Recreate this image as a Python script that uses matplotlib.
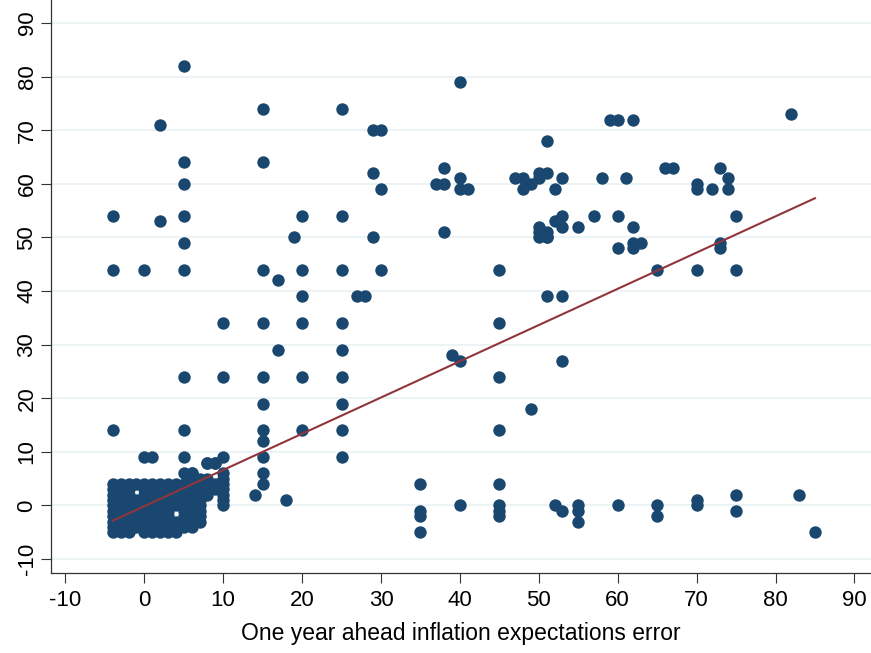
import numpy as np
import matplotlib
matplotlib.use("Agg")
import matplotlib.pyplot as plt

plt.rcParams['font.family'] = ['Liberation Sans', 'DejaVu Sans']
plt.rcParams['axes.unicode_minus'] = False

# dense block of integer points near the origin: column x -> (lowest y, highest y)
block_x = [-4, -3, -2, -1, 0, 1, 2, 3, 4, 5, 6, 7, 8, 9, 10]
block_ymin = [-5, -5, -5, -4, -5, -5, -5, -5, -5, -4, -4, -3, 2, 3, 0]
block_ymax = [4, 4, 4, 4, 4, 4, 4, 4, 4, 4, 6, 5, 5, 4, 6]
# gaps inside the block
block_gaps = [(-1, 2), (-1, 3), (4, -1), (4, -2)]

# remaining points (expectations error, second variable)
pts_x = [-4, -4, -4, 0, 0, 1, 2, 2,
         5, 5, 5, 5, 5, 5, 5, 5, 5, 5, 6, 8, 9, 8, 9, 10,
         10, 10,
         14, 15, 15, 15, 15, 15, 15, 15, 15, 15, 15, 15,
         17, 17, 18, 19,
         20, 20, 20, 20, 20, 20,
         25, 25, 25, 25, 25, 25, 25, 25, 25,
         27, 28, 29, 29, 29, 30, 30, 30,
         35, 35, 35, 35,
         37, 38, 38, 38, 39, 40, 40, 40, 41, 40, 40,
         45, 45, 45, 45, 45, 45, 45, 45,
         47, 48, 48, 49, 49, 50, 50, 51, 51, 52, 53,
         50, 50, 51, 50, 51, 51, 52, 53, 53, 51, 53, 53, 52, 53,
         55, 55, 55, 55, 57, 58, 59, 60, 62,
         60, 60, 61, 62, 62, 63, 62, 60,
         65, 65, 65, 66, 67,
         70, 70, 70, 70, 70, 72, 73, 73, 73, 74, 74,
         75, 75, 75, 75, 82, 83, 85]
pts_y = [54, 44, 14, 44, 9, 9, 71, 53,
         82, 64, 60, 54, 49, 44, 24, 14, 9, 6, 6, 8, 8, 8, 8, 9,
         34, 24,
         2, 74, 64, 44, 34, 24, 19, 14, 12, 9, 6, 4,
         42, 29, 1, 50,
         54, 44, 39, 34, 24, 14,
         74, 54, 44, 34, 29, 24, 19, 14, 9,
         39, 39, 70, 62, 50, 70, 59, 44,
         4, -1, -2, -5,
         60, 60, 63, 51, 28, 79, 61, 59, 59, 27, 0,
         44, 34, 24, 14, 4, 0, -1, -2,
         61, 61, 59, 60, 18, 62, 61, 62, 68, 59, 61,
         52, 51, 51, 50, 50, 39, 53, 54, 52, 50, 39, 27, 0, -1,
         52, 0, -1, -3, 54, 61, 72, 72, 72,
         54, 48, 61, 52, 49, 49, 48, 0,
         44, 0, -2, 63, 63,
         60, 59, 44, 1, 0, 59, 63, 49, 48, 61, 59,
         54, 44, 2, -1, 73, 2, -5]

# fitted line
fit_intercept = -0.14
fit_slope = 0.676

xticks = list(range(-10, 91, 10))
yticks = list(range(-10, 91, 10))

navy = '#1a476f'
maroon = '#90353b'

bx, by = [], []
for x, lo, hi in zip(block_x, block_ymin, block_ymax):
    for y in range(lo, hi + 1):
        if (x, y) not in block_gaps:
            bx.append(x)
            by.append(y)

all_x = np.array(bx + pts_x, dtype=float)
all_y = np.array(by + pts_y, dtype=float)

fig = plt.figure(figsize=(8.71, 6.53), dpi=100)
ax = fig.add_axes([50.7 / 871, 80 / 653, 1 - 50.7 / 871, 1 - 80 / 653])

ax.set_axisbelow(True)
ax.yaxis.grid(True, color='#eaf2f3', linewidth=1.3)
ax.xaxis.grid(False)

ax.scatter(all_x, all_y, s=80, color=navy, linewidths=0, zorder=2)

line_x = np.array([all_x.min(), all_x.max()])
ax.plot(line_x, fit_intercept + fit_slope * line_x, color=maroon, linewidth=1.5, zorder=3)

ax.set_xlim(-11.86, 92.1)
ax.set_ylim(-12.6, 94.3)
ax.set_xticks(xticks)
ax.set_yticks(yticks)
ax.tick_params(axis='both', labelsize=16, length=7, width=0.8, color='#333333')
ax.tick_params(axis='x', pad=5)
ax.tick_params(axis='y', pad=2.5)
for lab in ax.get_yticklabels():
    lab.set_rotation(90)
    lab.set_va('center')

for side in ['top', 'right']:
    ax.spines[side].set_visible(False)
for side in ['left', 'bottom']:
    ax.spines[side].set_color('#333333')
    ax.spines[side].set_linewidth(0.9)

ax.set_xlabel('One year ahead inflation expectations error', fontsize=16.5, labelpad=8)

fig.savefig('out.png', dpi=100)
